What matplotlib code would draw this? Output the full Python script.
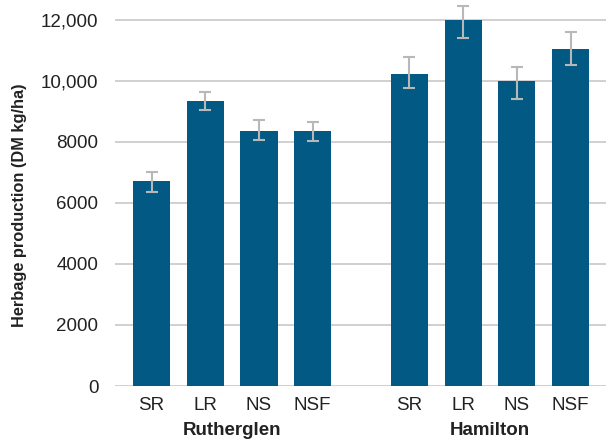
import numpy as np
import matplotlib.pyplot as plt
from matplotlib.transforms import blended_transform_factory

plt.rcParams['font.family'] = ['Liberation Sans', 'DejaVu Sans']

sites = ['Rutherglen', 'Hamilton']
treatments = ['SR', 'LR', 'NS', 'NSF']

# herbage production (DM kg/ha) per site
rutherglen = [6720, 9345, 8360, 8360]
rutherglen_err_up = [285, 305, 360, 305]
rutherglen_err_down = [360, 305, 295, 318]

hamilton = [10230, 12000, 10000, 11050]
hamilton_err_up = [565, 450, 470, 550]
hamilton_err_down = [460, 590, 580, 525]

yticks = [0, 2000, 4000, 6000, 8000, 10000, 12000]
ytick_labels = ['0', '2000', '4000', '6000', '8000', '10,000', '12,000']

bar_color = '#025a84'
err_color = '#b8b8b8'
grid_color = '#c8c8c8'

group_gap = 1.8
x_r = np.arange(len(treatments))
x_h = x_r + (len(treatments) - 1) + group_gap

fig = plt.figure(figsize=(6.06, 4.4), dpi=100)
ax = fig.add_axes([115 / 606, 1 - 386 / 440, 1 - 115 / 606, 386 / 440])

for xs, vals, lo, hi in [(x_r, rutherglen, rutherglen_err_down, rutherglen_err_up),
                         (x_h, hamilton, hamilton_err_down, hamilton_err_up)]:
    ax.bar(xs, vals, width=0.69, color=bar_color, zorder=2)
    ax.errorbar(xs, vals, yerr=[lo, hi], fmt='none', ecolor=err_color,
                elinewidth=1.5, capsize=4, capthick=1.5, zorder=3)

ax.set_ylim(0, 12650)
ax.set_xlim(x_r[0] - 0.68, x_h[-1] + 0.66)
ax.set_yticks(yticks)
ax.set_yticklabels(ytick_labels)
ax.yaxis.grid(True, color=grid_color, linewidth=1.2, zorder=0)
ax.set_axisbelow(True)
for s in ax.spines.values():
    s.set_visible(False)
ax.tick_params(axis='y', length=0, pad=12, labelsize=13.5, labelcolor='#222222')
ax.tick_params(axis='x', length=0, pad=8, labelsize=13.5, labelcolor='#222222')

ax.set_xticks(np.concatenate([x_r, x_h]))
ax.set_xticklabels(treatments * 2)

trans = blended_transform_factory(ax.transData, ax.transAxes)
ax.text(x_r.mean(), -0.114, sites[0], transform=trans, ha='center', va='center',
        fontsize=13.5, fontweight='bold', color='#222222')
ax.text(x_h.mean(), -0.114, sites[1], transform=trans, ha='center', va='center',
        fontsize=13.5, fontweight='bold', color='#222222')

fig.text(20 / 606, 1 - 205 / 440, 'Herbage production (DM kg/ha)', rotation=90,
         ha='center', va='center', fontsize=11.8, fontweight='bold', color='#222222')

fig.savefig('out.png', dpi=100)
